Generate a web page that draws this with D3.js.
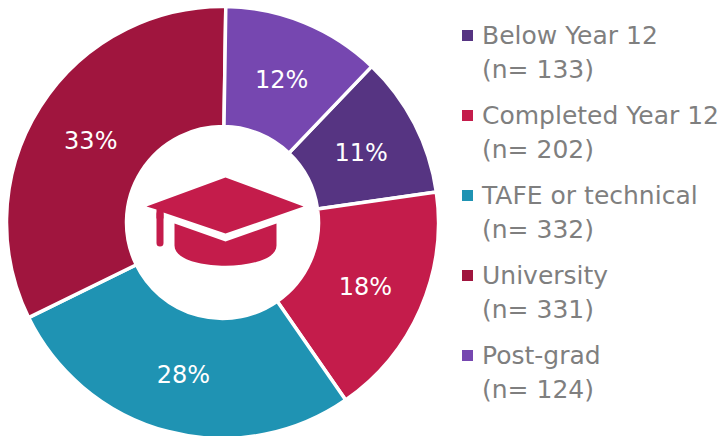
<!DOCTYPE html>
<html>
<head>
<meta charset="utf-8">
<style>
    html, body { margin: 0; padding: 0; background: #fff; }
    svg { display: block; }
    text { font-family: 'DejaVu Sans', sans-serif; }
    .slice-label { font-size: 24px; fill: #fff; text-anchor: middle; }
    .legend-text { font-size: 25px; fill: #7f7f7f; }
</style>
</head>
<body>
<svg width="724" height="436"></svg>
<script src="https://d3js.org/d3.v7.min.js"></script>
<script>
const categories = ["Below Year 12", "Completed Year 12", "TAFE or technical", "University", "Post-grad"];
const counts = [133, 202, 332, 331, 124];
const percents = [11, 18, 28, 33, 12];
// slice sizes, the printed percents add up to 102
const shares = [10.6, 17.6, 27.4, 32.5, 11.9];
const colors = ["#563482", "#c41c4b", "#1f93b3", "#a0153e", "#7647b0"];

let svg = d3.select("svg");

let pie = d3.pie()
    .value(d => d)
    .sort(null)
    .startAngle(0.763)
    .endAngle(0.763 + 2 * Math.PI);

let arc = d3.arc().innerRadius(96).outerRadius(216);
let labelArc = d3.arc().innerRadius(156).outerRadius(156);

let g = svg.append("g").attr("transform", "translate(222.5,222.5)");

g.selectAll("path.slice")
    .data(pie(shares))
    .join("path")
    .attr("class", "slice")
    .attr("fill", (d, i) => colors[i])
    .attr("stroke", "#fff")
    .attr("stroke-width", 3.5)
    .attr("d", arc);

g.selectAll("text")
    .data(pie(shares))
    .join("text")
    .attr("class", "slice-label")
    .attr("x", d => labelArc.centroid(d)[0])
    .attr("y", d => labelArc.centroid(d)[1] + 10)
    .text((d, i) => percents[i] + "%");

// graduation cap
let cap = g.append("g").attr("fill", "#c41c4b");
cap.append("path").attr("d", "M-48,1 L3,19 L54,1 L54,23 C54,50 -48,50 -48,23 Z");
cap.append("path").attr("d", "M3,-45 L81,-16 L3,11 L-59,-10 L-59,-4 L-66,-4 L-66,-13 L-76,-16 Z");
cap.append("rect").attr("x", -66).attr("y", -12).attr("width", 7).attr("height", 36).attr("rx", 3.5);

// legend
let legend = svg.append("g");
let rowY = d3.scalePoint().domain(categories).range([0, 320]);

categories.forEach((c, i) => {
    let row = legend.append("g").attr("transform", `translate(462,${rowY(c) + 36})`);
    row.append("rect").attr("x", 0).attr("y", -6).attr("width", 11).attr("height", 11).attr("fill", colors[i]);
    row.append("text").attr("class", "legend-text").attr("x", 20).attr("y", 8).text(c);
    row.append("text").attr("class", "legend-text").attr("x", 20).attr("y", 42).text("(n= " + counts[i] + ")");
});
</script>
</body>
</html>
